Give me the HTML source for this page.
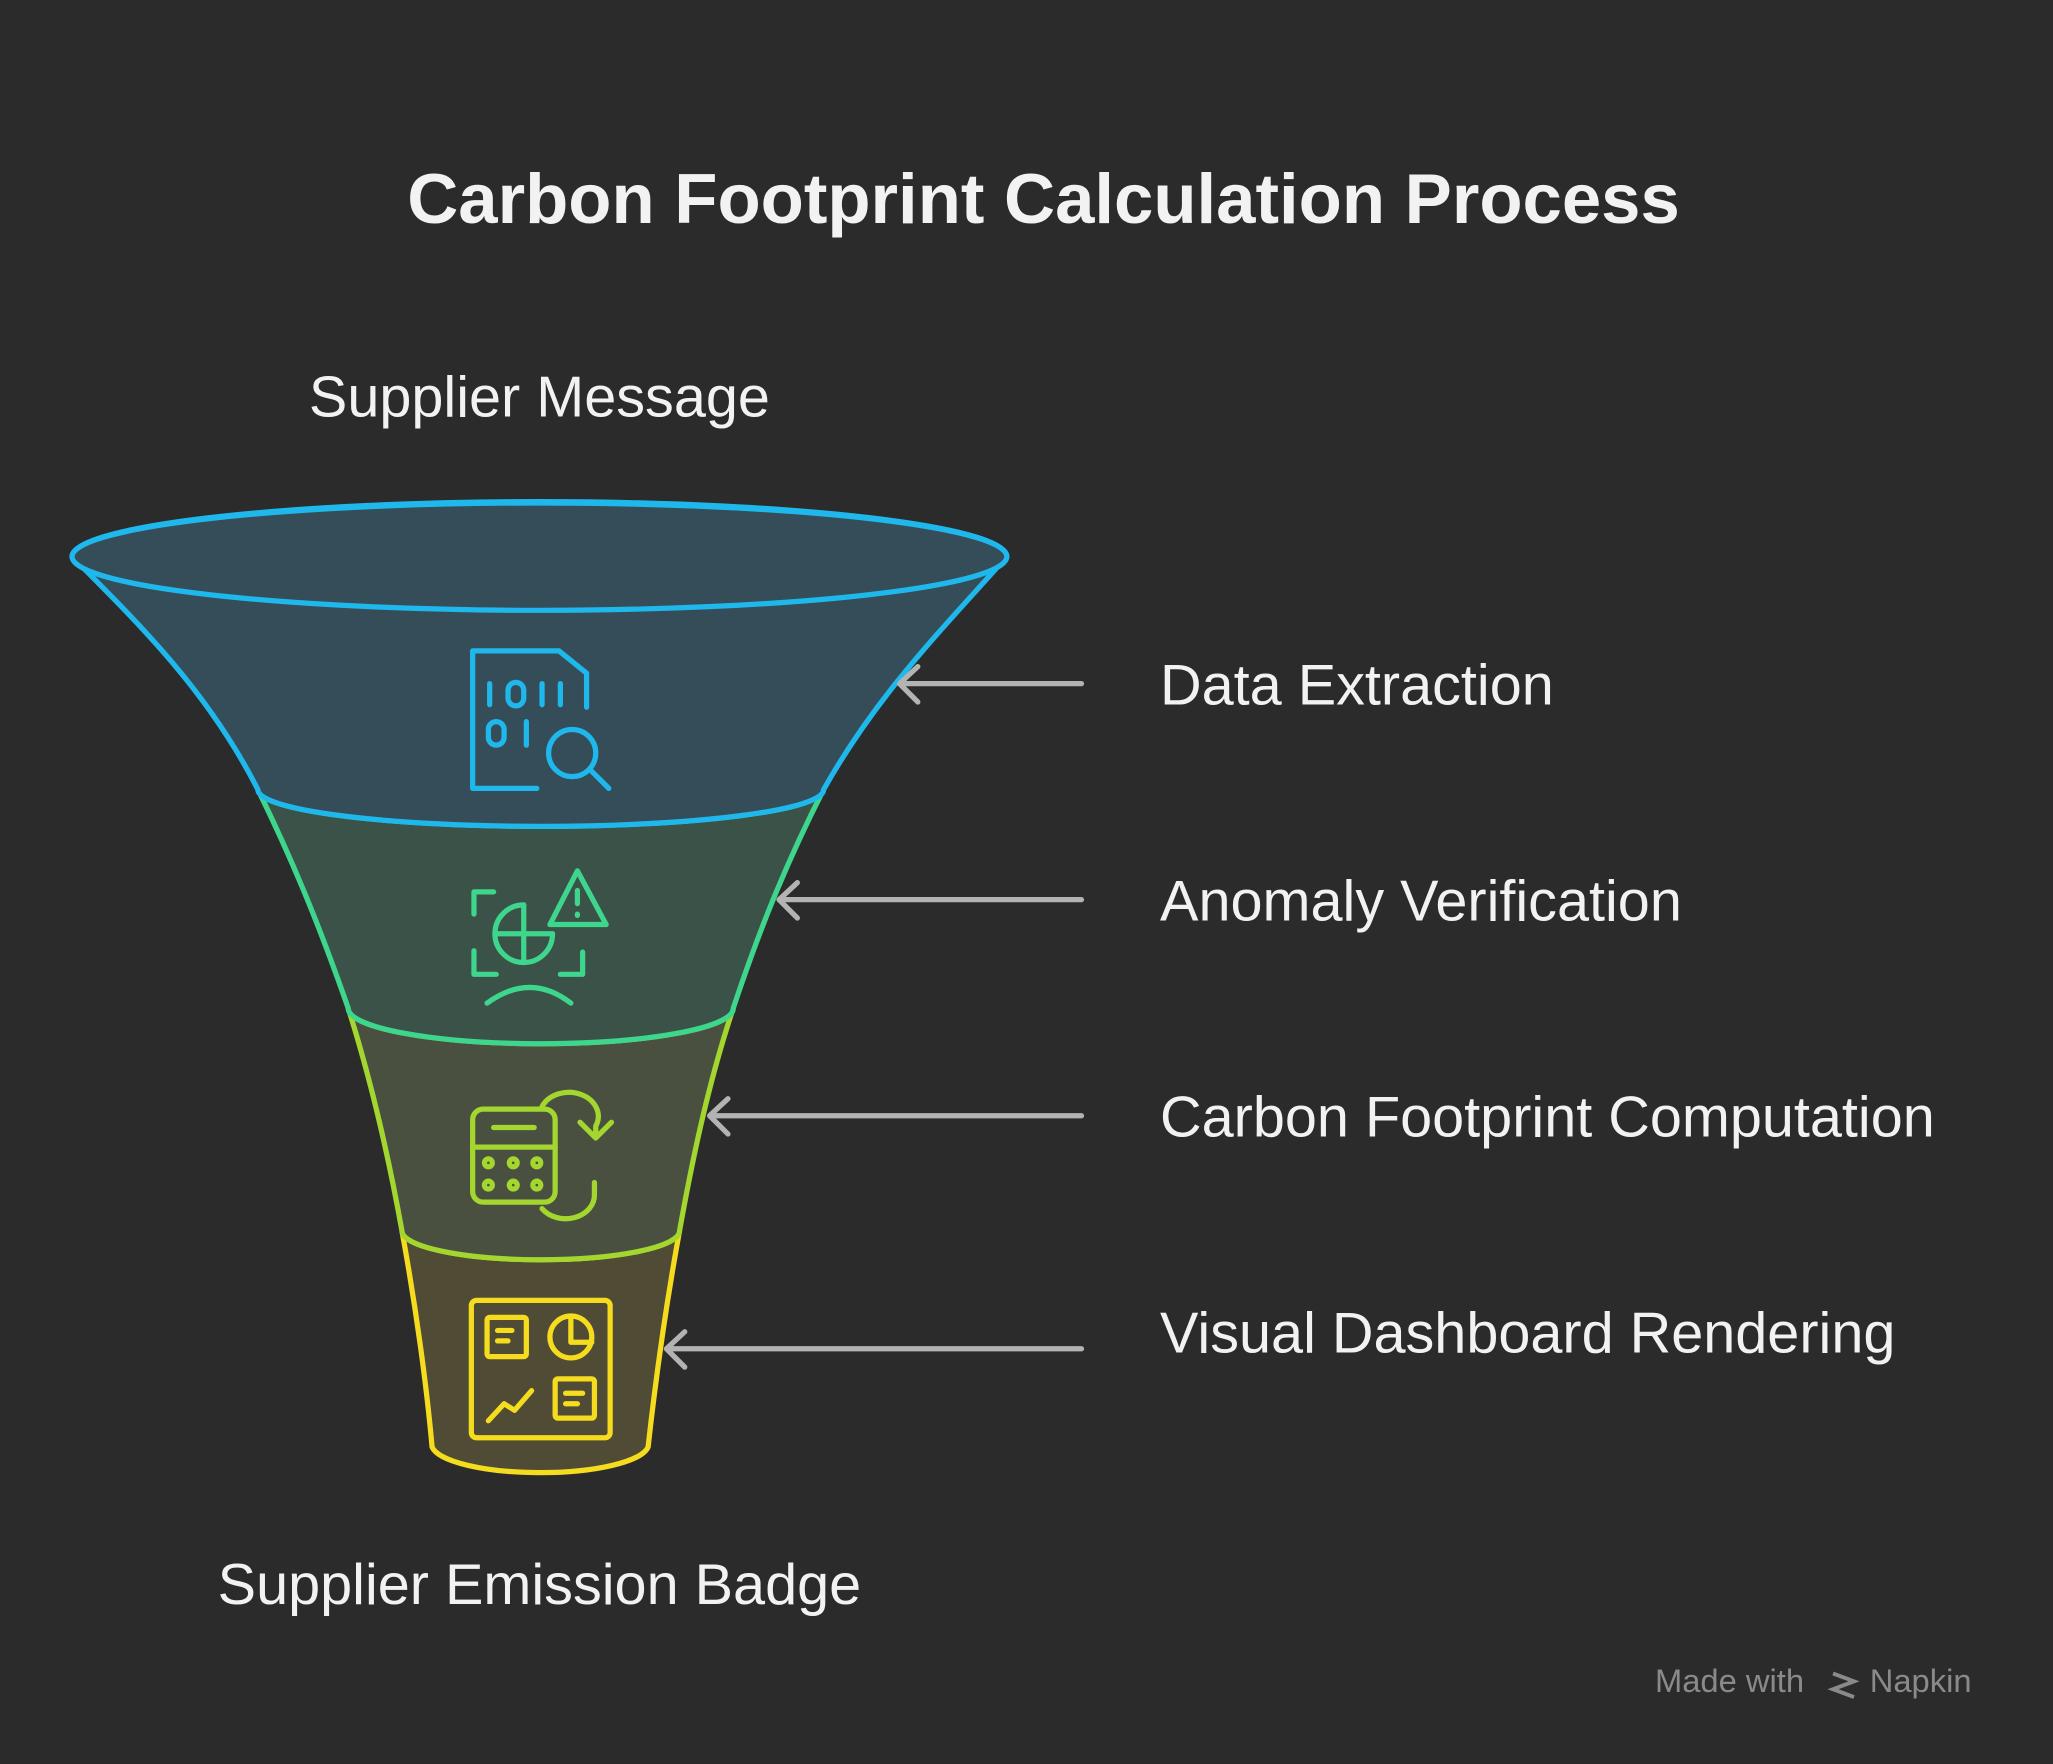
<!DOCTYPE html>
<html><head><meta charset="utf-8"><style>
html,body{margin:0;padding:0;background:#2b2b2b;width:2053px;height:1764px;overflow:hidden}
svg{display:block}
text{font-family:"Liberation Sans",sans-serif}
</style></head><body>
<svg width="2053" height="1764" viewBox="0 0 1568 1347" xmlns="http://www.w3.org/2000/svg">
<rect width="1568" height="1347" fill="#2b2b2b"/>
<text x="797" y="170" text-anchor="middle" font-size="54" font-weight="bold" fill="#f2f2f2">Carbon Footprint Calculation Process</text>
<text x="412" y="318" text-anchor="middle" font-size="44" fill="#f2f2f2">Supplier Message</text>
<text x="412" y="1225" text-anchor="middle" font-size="44" fill="#f2f2f2">Supplier Emission Badge</text>

<path d="M307,940 C318,1000 326,1060 330,1105 A83,22 0 0 0 495,1105 C500,1060 508,1000 519,940 A106,22 0 0 1 307,940 Z" fill="#504b34" stroke="#f5dc1e" stroke-width="4"/>
<path d="M266,770 C285,830 298,890 307,940 A106,22 0 0 0 519,940 C528,890 540,830 560,770 A147,27 0 0 1 266,770 Z" fill="#4a5040" stroke="#a3d62e" stroke-width="4"/>
<path d="M197,603 C225,660 245,710 266,770 A147,27 0 0 0 560,770 C580,710 600,660 629,603 A216,28 0 0 1 197,603 Z" fill="#3a5248" stroke="#3dd68c" stroke-width="4"/>
<path d="M55,425 C110,480 160,530 197,603 A216,28 0 0 0 629,603 C670,530 720,480 769,425 A357,42 0 0 0 55,425 Z" fill="#344d58" stroke="#1fb8ec" stroke-width="4"/>
<ellipse cx="412" cy="425" rx="357" ry="41" fill="#344d58" stroke="#1fb8ec" stroke-width="4"/>

<g fill="none" stroke="#1fb8ec" stroke-width="4" stroke-linecap="round" stroke-linejoin="round">
<path d="M410,602 H361 V497 H427 L448,514 V540"/>
<path d="M374,522 V538 M414,522 V538 M428,522 V538"/>
<rect x="388" y="521" width="12" height="18" rx="6"/>
<rect x="373" y="551" width="12" height="18" rx="6"/>
<path d="M402,551 V569"/>
<circle cx="437" cy="575" r="18"/>
<path d="M451,588 L465,602"/>
</g>
<g fill="none" stroke="#3dd68c" stroke-width="4" stroke-linecap="round" stroke-linejoin="round">
<path d="M377,681 H362 V698 M362,726 V744 H379 M428,744 H445 V727"/>
<path d="M400,691 A22,22 0 1 0 422,713"/>
<path d="M400,691 V735 M378,713 H422"/>
<path d="M420,706 L441,665 L463,706 Z"/>
<path d="M441,680 V690 M441,698 V699"/>
<path d="M372,766 Q405,742 436,766"/>
</g>
<g fill="none" stroke="#a3d62e" stroke-width="4" stroke-linecap="round" stroke-linejoin="round">
<rect x="361" y="847" width="63" height="71" rx="8"/>
<path d="M361,876 H424 M377,861 H408"/>
<circle cx="373" cy="888" r="3"/><circle cx="392" cy="888" r="3"/><circle cx="410" cy="888" r="3"/>
<circle cx="373" cy="905" r="3"/><circle cx="392" cy="905" r="3"/><circle cx="410" cy="905" r="3"/>
<path d="M414,845 A22,18 0 0 1 455,860 V868 M443,857 L455,869 L467,857"/>
<path d="M454,903 V912 A22,18 0 0 1 414,923"/>
</g>
<g fill="none" stroke="#f5dc1e" stroke-width="4" stroke-linecap="round" stroke-linejoin="round">
<rect x="360" y="993" width="106" height="105" rx="4"/>
<rect x="372" y="1006" width="30" height="30" rx="2"/>
<path d="M380,1016 H391 M380,1024 H388"/>
<circle cx="436" cy="1021" r="16"/>
<path d="M436,1005 V1025 H452"/>
<rect x="424" y="1053" width="30" height="30" rx="2"/>
<path d="M432,1064 H445 M432,1072 H441"/>
<path d="M373,1085 L385,1072 L393,1077 L406,1062"/>
</g>

<g fill="none" stroke="#b3b3b3" stroke-width="4" stroke-linecap="round" stroke-linejoin="round">
<path d="M826,522 H687 M701,509 L687,522 L701,536"/>
<path d="M826,687 H595 M609,674 L595,687 L609,701"/>
<path d="M826,852 H542 M556,839 L542,852 L556,866"/>
<path d="M826,1030 H509 M523,1017 L509,1030 L523,1044"/>
</g>
<g font-size="44" fill="#f2f2f2">
<text x="886" y="538">Data Extraction</text>
<text x="886" y="703">Anomaly Verification</text>
<text x="886" y="868">Carbon Footprint Computation</text>
<text x="886" y="1033">Visual Dashboard Rendering</text>
</g>
<text x="1264" y="1292" font-size="25" fill="#8a8a8a">Made with</text>
<path d="M1400,1278 L1416,1284 L1400,1290 L1416,1296" fill="none" stroke="#8a8a8a" stroke-width="3"/>
<text x="1428" y="1292" font-size="25" fill="#8a8a8a">Napkin</text>
</svg>
</body></html>
